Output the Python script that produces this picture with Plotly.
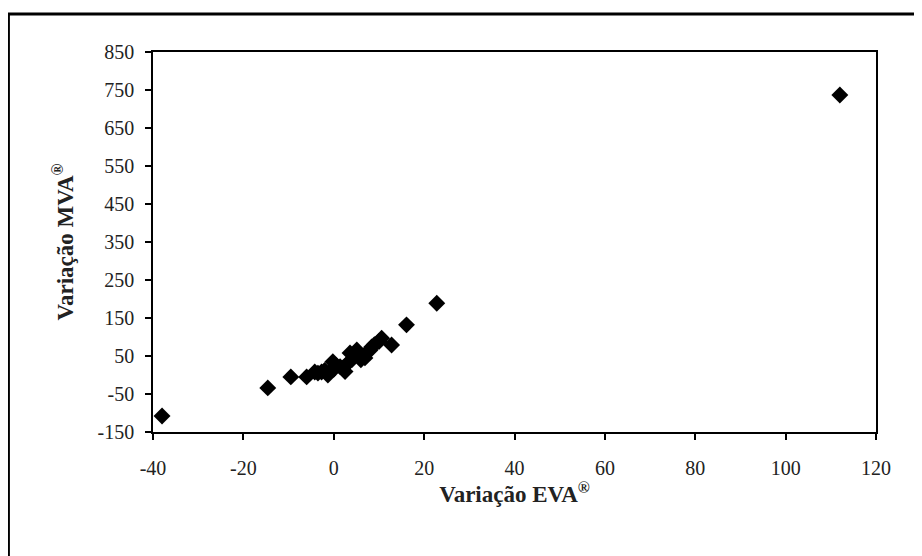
import plotly.graph_objects as go

eva = [-38.0, -14.6, -9.5, -6.0, -4.2, -3.5, -2.7, -2.0, -1.3, -0.2, 0.0, 0.5, 1.4, 2.0, 2.5,
       3.0, 3.6, 4.0, 5.1, 6.0, 6.9, 7.0, 8.0, 8.4, 9.0, 10.0, 10.6, 12.8, 16.1, 22.8, 112.0]
mva = [-108, -34, -5, -5, 8, 5, 8, 12, 0, 35, 15, 25, 22, 18, 9,
       30, 58, 40, 66, 40, 45, 55, 65, 74, 80, 88, 97, 79, 132, 189, 737]

x_ticks = [-40, -20, 0, 20, 40, 60, 80, 100, 120]
x_labels = ["-40", "-20", "0", "20", "40", "60", "80", "100", "120"]
y_ticks = [-150, -50, 50, 150, 250, 350, 450, 550, 650, 750, 850]
y_labels = ["-150", "-50", "50", "150", "250", "350", "450", "550", "650", "750", "850"]

fig = go.Figure(go.Scatter(
    x=eva, y=mva, mode="markers",
    marker=dict(symbol="diamond", size=13, color="black"),
))

tick_font = dict(family="Liberation Serif", size=20, color="#222")
title_font = dict(family="Liberation Serif", size=23, color="#222", weight="bold")

axis_common = dict(
    showgrid=False, zeroline=False, showline=True, linecolor="black", linewidth=1.5,
    mirror=True, ticks="outside", ticklen=6, tickcolor="black", tickwidth=1.5,
    tickfont=tick_font,
)

fig.update_layout(
    width=914, height=548,
    margin=dict(l=145, r=46, t=44, b=124),
    paper_bgcolor="white", plot_bgcolor="white",
    showlegend=False,
    xaxis=dict(range=[-40, 120], tickvals=x_ticks, ticktext=x_labels,
               ticklabelstandoff=11, **axis_common,
               title=dict(text="Variação EVA<sup>®</sup>", standoff=5, font=title_font)),
    yaxis=dict(range=[-150, 850], tickvals=y_ticks, ticktext=y_labels,
               ticklabelstandoff=7, **axis_common,
               title=dict(text="Variação MVA<sup>®</sup>", standoff=18, font=title_font)),
    shapes=[dict(type="rect", xref="paper", yref="paper",
                 x0=-0.2, x1=1.07, y0=-0.34, y1=1.1,
                 line=dict(color="black", width=3), layer="below")],
)

fig.write_html("out.html")
